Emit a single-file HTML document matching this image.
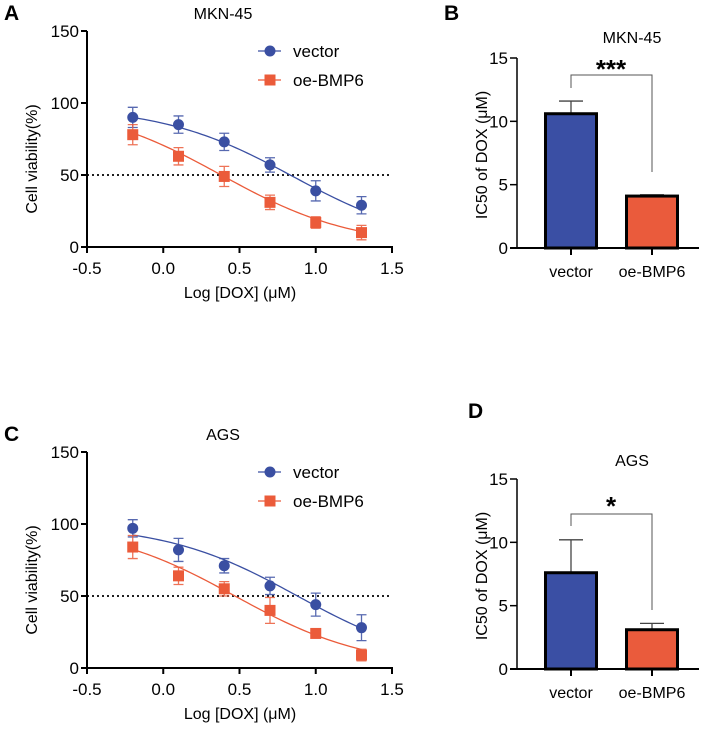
<!DOCTYPE html>
<html><head><meta charset="utf-8"><style>
html,body{margin:0;padding:0;background:#fff}
svg{display:block;font-family:"Liberation Sans",Arial,sans-serif}
</style></head><body>
<svg id="fig" width="711" height="729" viewBox="0 0 711 729"></svg>
<script>
const doses = [-0.2, 0.1, 0.4, 0.7, 1.0, 1.3];
const xTicks = [-0.5, 0.0, 0.5, 1.0, 1.5];
const xTickLabels = ["-0.5", "0.0", "0.5", "1.0", "1.5"];
const yTicksCurve = [0, 50, 100, 150];
const mknVector = [90, 85, 73, 57, 39, 29];
const mknVectorErr = [7, 6, 6, 5, 7, 6];
const mknOe = [78, 63, 49, 31, 17, 10];
const mknOeErr = [7, 6, 7, 5, 4, 5];
const agsVector = [97, 82, 71, 57, 44, 28];
const agsVectorErr = [6, 8, 5, 6, 8, 9];
const agsOe = [84, 64, 55, 40, 24, 9];
const agsOeErr = [8, 6, 5, 9, 2, 4];
// 4PL fit params: [top, bottom, logIC50, hill]
const mknVectorFit = [98, 0, 0.85, 1];
const mknOeFit = [100, 0, 0.38, 1];
const agsVectorFit = [100, 0, 0.88, 1];
const agsOeFit = [100, 0, 0.47, 1];
const barCategories = ["vector", "oe-BMP6"];
const yTicksBar = [0, 5, 10, 15];
const mknIC50 = [10.6, 4.1];
const mknIC50Err = [1.0, 0.1];
const agsIC50 = [7.6, 3.1];
const agsIC50Err = [2.6, 0.5];

const NS = "http://www.w3.org/2000/svg";
const svg = document.getElementById("fig");
const BLUE = "#3a4fa2", ORANGE = "#eb5b3a";
function mk(tag, attrs, parent, text) {
  const e = document.createElementNS(NS, tag);
  for (const k in attrs) e.setAttribute(k, attrs[k]);
  if (text !== undefined) e.textContent = text;
  (parent || svg).appendChild(e);
  return e;
}

function curvePanel(oy, title, letter, vals1, err1, fit1, vals2, err2, fit2, prefix) {
  const g = mk("g", {});
  
  
  const x0 = 87, x1 = 392, yTop = oy, yBot = oy + 216;
  const X = v => x0 + (v + 0.5) / 2 * (x1 - x0);
  const Y = v => yBot - v / 150 * (yBot - yTop);
  const L = mk("text", {x: 4, y: oy - 11, "font-size": 21, "font-weight": "bold"}, g, letter);
  
  
  const t = mk("text", {x: 223, y: oy - 12, "font-size": 16, "text-anchor": "middle"}, g, title);
  
  
  mk("line", {x1: x0, y1: yTop, x2: x0, y2: yBot + 1, stroke: "#000", "stroke-width": 2}, g);
  mk("line", {x1: x0 - 1, y1: yBot, x2: x1 + 1, y2: yBot, stroke: "#000", "stroke-width": 2}, g);
  yTicksCurve.forEach(v => {
    mk("line", {x1: x0 - 6, y1: Y(v), x2: x0, y2: Y(v), stroke: "#000", "stroke-width": 2}, g);
    const tl = mk("text", {x: x0 - 8, y: Y(v) + 6, "font-size": 17, "text-anchor": "end"}, g, String(v));
    
    
  });
  xTicks.forEach((v, i) => {
    mk("line", {x1: X(v), y1: yBot, x2: X(v), y2: yBot + 6, stroke: "#000", "stroke-width": 2}, g);
    const tl = mk("text", {x: X(v), y: yBot + 27, "font-size": 17, "text-anchor": "middle"}, g, xTickLabels[i]);
    
    
  });
  const xt = mk("text", {x: 240, y: yBot + 51, "font-size": 16, "text-anchor": "middle"}, g, "Log [DOX] (μM)");
  
  
  const yc = (yTop + yBot) / 2;
  const yt = mk("text", {x: 0, y: 0, "font-size": 16, "text-anchor": "middle", transform: `translate(37 ${yc + 20}) rotate(-90)`}, g, "Cell viability(%)");
  
  
  const dl = mk("line", {x1: x0, y1: Y(50), x2: x1, y2: Y(50), stroke: "#000", "stroke-width": 1.8, "stroke-dasharray": "2 3"}, g);
  
  
  function series(vals, errs, fit, color, square, name) {
    const sg = mk("g", {}, g);
    
    
    let d = "";
    for (let i = 0; i <= 60; i++) {
      const xv = doses[0] + (doses[doses.length - 1] - doses[0]) * i / 60;
      const yv = fit[1] + (fit[0] - fit[1]) / (1 + Math.pow(10, (xv - fit[2]) * fit[3]));
      d += (i ? "L" : "M") + X(xv).toFixed(2) + " " + Y(yv).toFixed(2);
    }
    mk("path", {d: d, fill: "none", stroke: color, "stroke-width": 1.3}, sg);
    vals.forEach((v, i) => {
      const cx = X(doses[i]), cy = Y(v), e = errs[i];
      mk("path", {d: `M${cx} ${Y(v - e)}V${Y(v + e)}M${cx - 5} ${Y(v + e)}h10M${cx - 5} ${Y(v - e)}h10`, stroke: color, "stroke-width": 1.3, fill: "none", opacity: 0.85}, sg);
      let m;
      if (square) m = mk("rect", {x: cx - 5.5, y: cy - 5.5, width: 11, height: 11, fill: color}, sg);
      else m = mk("circle", {cx: cx, cy: cy, r: 5.5, fill: color}, sg);
      
      
    });
  }
  series(vals1, err1, fit1, BLUE, false, "vector");
  series(vals2, err2, fit2, ORANGE, true, "oe-bmp6");
  [["vector", BLUE, false, Y(150) + 20], ["oe-BMP6", ORANGE, true, Y(150) + 49]].forEach(([lab, c, sq, ly]) => {
    const lg = mk("g", {}, g);
    
    
    mk("line", {x1: 258, y1: ly, x2: 281, y2: ly, stroke: c, "stroke-width": 1.3}, lg);
    if (sq) mk("rect", {x: 264.5, y: ly - 5.5, width: 11, height: 11, fill: c}, lg);
    else mk("circle", {cx: 270, cy: ly, r: 5.5, fill: c}, lg);
    mk("text", {x: 293, y: ly + 6, "font-size": 17}, lg, lab);
  });
}

function barPanel(yTopPx, yBotPx, title, titleY, letter, letterX, letterY, vals, errs, stars, brY, brL, brR, starY, prefix) {
  const g = mk("g", {});
  
  
  const x0 = 517, x1 = 699;
  const Y = v => yBotPx - v / 15 * (yBotPx - yTopPx);
  const centers = [571, 652];
  const L = mk("text", {x: letterX, y: letterY, "font-size": 21, "font-weight": "bold"}, g, letter);
  
  
  const t = mk("text", {x: 632, y: titleY, "font-size": 16, "text-anchor": "middle"}, g, title);
  
  
  mk("line", {x1: x0, y1: yTopPx, x2: x0, y2: yBotPx, stroke: "#000", "stroke-width": 1.5}, g);
  mk("line", {x1: x0 - 7, y1: yBotPx, x2: x1, y2: yBotPx, stroke: "#000", "stroke-width": 2}, g);
  yTicksBar.forEach(v => {
    mk("line", {x1: x0 - 7, y1: Y(v), x2: x0, y2: Y(v), stroke: "#000", "stroke-width": 1.5}, g);
    const tl = mk("text", {x: x0 - 9, y: Y(v) + 6, "font-size": 17, "text-anchor": "end"}, g, String(v));
    
    
  });
  const yc = (yTopPx + yBotPx) / 2;
  const yt = mk("text", {x: 0, y: 0, "font-size": 16, "text-anchor": "middle", transform: `translate(${x0 - 30} ${yc + 2}) rotate(-90)`}, g, "IC50 of DOX (μM)");
  
  
  const cols = ["#3a4fa4", "#ea5b3c"];
  vals.forEach((v, i) => {
    const cx = centers[i];
    mk("path", {d: `M${cx} ${Y(v)}V${Y(v + errs[i])}M${cx - 12} ${Y(v + errs[i])}h24`, stroke: "#444", "stroke-width": 1.3, fill: "none"}, g);
    const b = mk("rect", {x: cx - 25.5, y: Y(v), width: 51, height: yBotPx - Y(v), fill: cols[i], stroke: "#000", "stroke-width": 3}, g);
    
    
    mk("line", {x1: cx, y1: yBotPx, x2: cx, y2: yBotPx + 7, stroke: "#000", "stroke-width": 2}, g);
    const xl = mk("text", {x: cx, y: yBotPx + 29, "font-size": 16, "text-anchor": "middle"}, g, barCategories[i]);
    
    
  });
  const br = mk("path", {d: `M${centers[0]} ${brL}V${brY}H${centers[1]}V${brR}`, stroke: "#555", "stroke-width": 1, fill: "none"}, g);
  
  
  const st = mk("text", {x: 611, y: starY, "font-size": 26, "font-weight": "bold", "text-anchor": "middle"}, g, stars);
  
  
}

curvePanel(31, "MKN-45", "A", mknVector, mknVectorErr, mknVectorFit, mknOe, mknOeErr, mknOeFit, "mkn45");
curvePanel(452, "AGS", "C", agsVector, agsVectorErr, agsVectorFit, agsOe, agsOeErr, agsOeFit, "ags");
barPanel(58, 248, "MKN-45", 43, "B", 444, 20, mknIC50, mknIC50Err, "***", 75, 88, 172, 78, "mkn45");
barPanel(479, 669, "AGS", 466, "D", 468, 418, agsIC50, agsIC50Err, "*", 514, 526, 610, 515, "ags");
</script>
</body></html>
